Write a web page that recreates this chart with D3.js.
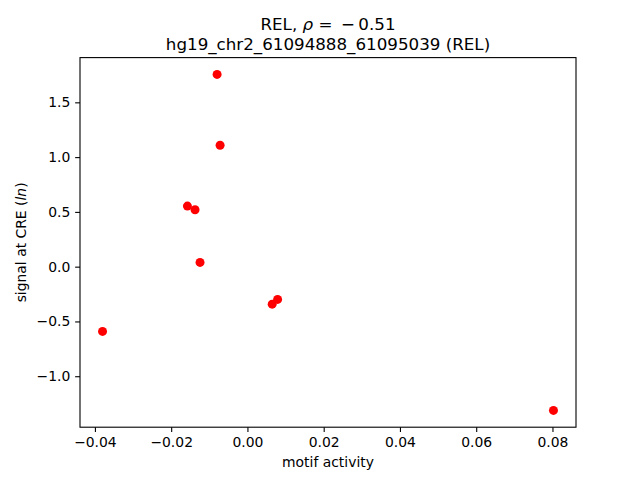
<!DOCTYPE html>
<html><head><meta charset="utf-8">
<script src="https://cdn.jsdelivr.net/npm/d3@7"></script>
<style>body{margin:0;background:#fff}svg{display:block}text{font-family:"DejaVu Sans",sans-serif;fill:#000}</style>
</head><body>
<script>
const motifActivity = [-0.0380, -0.01574, -0.01374, -0.01243, -0.00796, -0.00717, 0.00649, 0.00791, 0.08026];
const signal = [-0.591, 0.553, 0.520, 0.039, 1.755, 1.108, -0.342, -0.299, -1.312];
const xTicks = [-0.04, -0.02, 0.00, 0.02, 0.04, 0.06, 0.08];
const yTicks = [-1.0, -0.5, 0.0, 0.5, 1.0, 1.5];
const titleLine2 = "hg19_chr2_61094888_61095039 (REL)";

const W = 640, H = 480;
const L = 80, R = 576, T = 57.6, B = 427.2;
const svg = d3.select("body").append("svg").attr("width", W).attr("height", H);

function pad(ext){const r = ext[1]-ext[0]; return [ext[0]-0.05*r, ext[1]+0.05*r];}
const x = d3.scaleLinear().domain(pad(d3.extent(motifActivity))).range([L, R]);
const y = d3.scaleLinear().domain(pad(d3.extent(signal))).range([B, T]);

const fmtX = v => (v < 0 ? "\u2212" : "") + Math.abs(v).toFixed(2);
const fmtY = v => (v < 0 ? "\u2212" : "") + Math.abs(v).toFixed(1);

const xAxis = svg.append("g").attr("transform", `translate(0,${B})`)
  .call(d3.axisBottom(x).tickValues(xTicks).tickFormat(fmtX).tickSize(4.86).tickPadding(4.86));
const yAxis = svg.append("g").attr("transform", `translate(${L},0)`)
  .call(d3.axisLeft(y).tickValues(yTicks).tickFormat(fmtY).tickSize(4.86).tickPadding(4.86));
[xAxis, yAxis].forEach(g => {
  g.select(".domain").remove();
  g.selectAll(".tick line").attr("stroke", "#000").attr("stroke-width", 1.1);
  g.selectAll(".tick text").attr("font-size", "13.9px").attr("font-family", "DejaVu Sans").attr("fill", "#000");
});

svg.append("rect").attr("x", L).attr("y", T).attr("width", R-L).attr("height", B-T)
  .attr("fill", "none").attr("stroke", "#000").attr("stroke-width", 1.1);

svg.append("g").selectAll("circle").data(motifActivity.map((v,i)=>[v, signal[i]])).enter()
  .append("circle").attr("cx", d => x(d[0])).attr("cy", d => y(d[1])).attr("r", 4.5).attr("fill", "#ff0000");

// Title
const t1 = svg.append("text").attr("x", (L+R)/2).attr("y", 30).attr("text-anchor", "middle").attr("font-size", "16.7px");
t1.append("tspan").text("REL, ");
t1.append("tspan").attr("font-style", "italic").text("\u03c1");
t1.append("tspan").text(" = \u2009\u2212\u20090.51");
svg.append("text").attr("x", (L+R)/2).attr("y", 49.5).attr("text-anchor", "middle").attr("font-size", "16.7px").text(titleLine2);

// Axis labels
svg.append("text").attr("x", (L+R)/2).attr("y", 467).attr("text-anchor", "middle").attr("font-size", "13.9px").text("motif activity");
const yl = svg.append("text").attr("transform", `translate(26,${(T+B)/2}) rotate(-90)`).attr("text-anchor", "middle").attr("font-size", "13.9px");
yl.append("tspan").text("signal at CRE (");
yl.append("tspan").attr("font-style", "italic").text("ln");
yl.append("tspan").text(")");
</script>
</body></html>
